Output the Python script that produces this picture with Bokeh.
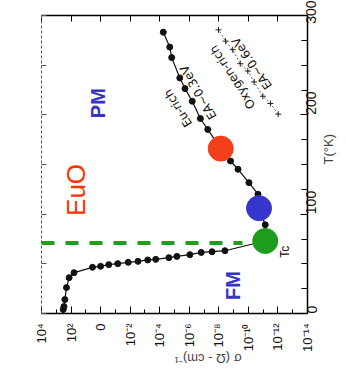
import math

from bokeh.embed import file_html
from bokeh.models import FixedTicker, Label, LinearAxis, Range1d
from bokeh.plotting import figure
from bokeh.resources import INLINE

# Eu-rich EuO: temperature (K) and log10 of conductivity (ohm-cm)^-1
eu_T = [4.0, 7.0, 14.0, 26.1, 36.1, 41.1, 46.5, 47.5, 49.2, 50.2, 51.5, 52.5,
        53.9, 54.5, 56.2, 57.5, 59.2, 61.5, 62.2, 63.2, 73.0, 89.3, 106.0,
        120.1, 131.7, 145.2, 153.5, 166.0, 185.3, 196.3, 213.7, 226.4, 237.1,
        257.6, 268.2, 283.2]
eu_logsig = [2.53, 2.48, 2.42, 2.31, 2.13, 1.80, 0.55, 0.0, -0.55, -1.16,
             -1.87, -2.53, -3.19, -3.73, -4.62, -5.16, -6.04, -6.81, -7.54,
             -8.41, -11.14, -11.14, -10.72, -10.65, -10.04, -9.30, -8.79,
             -8.13, -7.25, -6.75, -6.20, -5.71, -5.36, -4.81, -4.68, -4.24]

# Oxygen-rich EuO
ox_T = [200.7, 211.4, 218.7, 233.1, 244.1, 251.5, 265.6, 274.2, 285.6]
ox_logsig = [-12.02, -11.49, -10.98, -10.39, -9.96, -9.45, -8.94, -8.46, -7.98]

# highlighted states on the Eu-rich curve: FM (at Tc), near 100 K, PM
mark_T = [73.0, 106.0, 166.0]
mark_logsig = [-11.14, -10.72, -8.13]
mark_colors = ["#1e9c1e", "#3636cc", "#f4401a"]

# Curie temperature line
tc_T = 71.0
tc_logsig = [4.0, -9.6]

# axis ticks
sig_ticks = [4, 2, 0, -2, -4, -6, -8, -10, -12, -14]
sig_minor = [3, 1, -1, -3, -5, -7, -9, -11, -13]
sig_labels = ["10⁴", "10²", "0", "10⁻²", "10⁻⁴", "10⁻⁶", "10⁻⁸", "10⁻¹⁰",
              "10⁻¹²", "10⁻¹⁴"]
T_ticks = [0, 100, 200, 300]
T_minor = [25, 50, 75, 125, 150, 175, 225, 250, 275]

FONT = "Liberation Sans"

p = figure(width=346, height=376, x_range=Range1d(4, -14),
           y_range=Range1d(0, 300), y_axis_location="right",
           output_backend="svg", toolbar_location=None,
           min_border_left=41, min_border_right=32, min_border_top=15,
           min_border_bottom=62)
p.outline_line_color = None
p.grid.visible = False
p.background_fill_color = "white"
p.border_fill_color = "white"

# conductivity axis (bottom)
xa = p.xaxis[0]
xa.ticker = FixedTicker(ticks=sig_ticks, minor_ticks=sig_minor)
xa.major_label_overrides = {t: s for t, s in zip(sig_ticks, sig_labels)}
xa.major_label_orientation = math.pi / 2
xa.major_label_standoff = 10
xa.major_label_text_font = FONT
xa.major_label_text_font_size = "13px"
xa.major_label_text_color = "#111111"
xa.major_tick_in, xa.major_tick_out = 7, 0
xa.minor_tick_in, xa.minor_tick_out = 4, 0
xa.axis_line_width = 1.5
xa.axis_label = "σ (Ω - cm)⁻¹"
xa.axis_label_orientation = math.pi
xa.axis_label_standoff = 4
xa.axis_label_text_font = FONT
xa.axis_label_text_font_size = "13px"
xa.axis_label_text_font_style = "normal"

# temperature axis (right)
ya = p.yaxis[0]
ya.ticker = FixedTicker(ticks=T_ticks, minor_ticks=T_minor)
ya.major_label_orientation = math.pi / 2
ya.major_label_standoff = 4
ya.major_label_text_font = FONT
ya.major_label_text_font_size = "14px"
ya.major_label_text_color = "#111111"
ya.major_tick_in, ya.major_tick_out = 7, 0
ya.minor_tick_in, ya.minor_tick_out = 6, 0
ya.axis_line_width = 1.5
ya.axis_label = "T(°K)"
ya.axis_label_orientation = math.pi / 2
ya.axis_label_standoff = 4
ya.axis_label_text_font = FONT
ya.axis_label_text_font_size = "13px"
ya.axis_label_text_font_style = "normal"

# frame edges with inward ticks only (minor ticks, so no labels)
top = LinearAxis(ticker=FixedTicker(ticks=[], minor_ticks=sig_ticks),
                 major_label_standoff=0, major_tick_in=0, major_tick_out=0,
                 minor_tick_in=6, minor_tick_out=0, axis_line_width=1.5)
p.add_layout(top, "above")
left = LinearAxis(ticker=FixedTicker(ticks=[],
                                     minor_ticks=[0, 50, 100, 150, 200, 250, 300]),
                  major_label_standoff=0, major_tick_in=0, major_tick_out=0,
                  minor_tick_in=5, minor_tick_out=0, axis_line_dash="3 2",
                  axis_line_color="#555555", minor_tick_line_color="#555555")
p.add_layout(left, "left")

# Tc marker line
p.line(tc_logsig, [tc_T, tc_T], line_color="#1f9f1f", line_width=4,
       line_dash="13 11")

# oxygen-rich data
p.line(ox_logsig, ox_T, line_color="#333333", line_width=0.8,
       line_dash="2 2")
p.scatter(ox_logsig, ox_T, marker="cross", size=6, line_color="#222222",
          line_width=1)

# Eu-rich data
p.line(eu_logsig, eu_T, line_color="#111111", line_width=1.2)
p.scatter(eu_logsig, eu_T, marker="circle", size=6, fill_color="#111111",
          line_color="#111111")

# highlighted states
p.scatter(mark_logsig, mark_T, marker="circle", size=25,
          fill_color=mark_colors, line_color=mark_colors)


def add_text(x, y, text, size, color="#111111", angle=math.pi / 2,
             style="normal", font=FONT):
    p.add_layout(Label(x=x, y=y, text=text, angle=angle,
                       text_font=font, text_font_size=size,
                       text_font_style=style, text_color=color,
                       text_align="center", text_baseline="middle"))


add_text(5.38, 196.6, "Torrance et al.", "18px", color="#3d3dcc")
add_text(1.69, 124.4, "EuO", "26px", color="#ff3300")
add_text(0.18, 211.7, "PM", "20px", color="#3535c4", style="bold")
add_text(-8.99, 28.1, "FM", "20px", color="#3535c4", style="bold")
add_text(-12.51, 62.2, "Tc", "12px")

# curve annotations
add_text(-5.23, 206.7, "Eu-rich", "12px", angle=math.radians(122),
         font="DejaVu Sans")
add_text(-6.61, 222.7, "EA~0.3eV", "12px", angle=math.radians(120),
         font="DejaVu Sans")
add_text(-8.92, 237.8, "Oxygen-rich", "12px", angle=math.radians(123),
         font="DejaVu Sans")
add_text(-10.24, 251.8, "EA~0.6eV", "12px", angle=math.radians(125),
         font="DejaVu Sans")

open("out.html", "w").write(file_html(p, INLINE))
